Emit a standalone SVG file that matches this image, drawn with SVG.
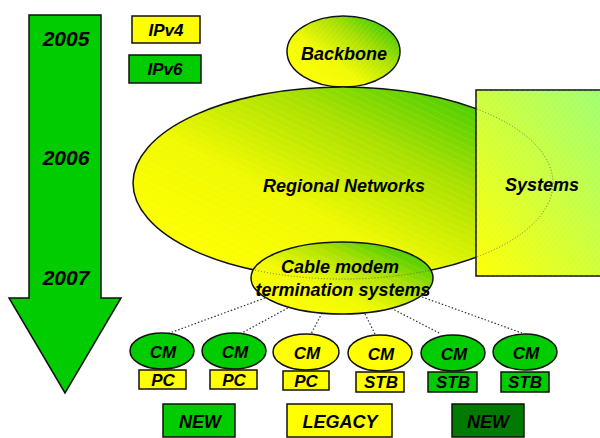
<svg xmlns="http://www.w3.org/2000/svg" width="600" height="438" viewBox="0 0 600 438">
<defs>
<linearGradient id="gYG" x1="0.1" y1="0.85" x2="0.9" y2="0.15">
<stop offset="0" stop-color="#FFFF00"/>
<stop offset="0.35" stop-color="#F0FA00"/>
<stop offset="0.7" stop-color="#A8E000"/>
<stop offset="1" stop-color="#44CC00"/>
</linearGradient>
<linearGradient id="gSys" x1="0" y1="1" x2="1" y2="0">
<stop offset="0" stop-color="#FFFF00"/>
<stop offset="1" stop-color="#99FF77"/>
</linearGradient>
<pattern id="hatch" width="6" height="6" patternUnits="userSpaceOnUse" patternTransform="rotate(25)">
<line x1="0" y1="0" x2="6" y2="0" stroke="#ffffff" stroke-opacity="0.18" stroke-width="1"/>
</pattern>
<pattern id="hatch2" width="4" height="4" patternUnits="userSpaceOnUse" patternTransform="rotate(-50)">
<line x1="0" y1="0" x2="4" y2="0" stroke="#ffffff" stroke-opacity="0.22" stroke-width="1"/>
</pattern>
<clipPath id="sysClip"><rect x="476" y="90" width="124" height="186"/></clipPath>
<clipPath id="cmtsClip"><ellipse cx="342" cy="278" rx="91" ry="36"/></clipPath>
</defs>
<style>
text{font-family:"Liberation Sans",Arial,sans-serif;font-weight:bold;font-style:italic;fill:#000;text-anchor:middle}
.ln{stroke:#111;stroke-width:1.5}
.grn{fill:#00CC00}
.yel{fill:#FFFF00}
.dk{fill:#007A00}
.conn{stroke:#333;stroke-width:1.2;stroke-dasharray:1.5 2;fill:none}
.t18{font-size:18px}
.t17{font-size:17px}
</style>

<g id="timeline">
<polygon class="grn ln" points="29,15 101,15 101,298 121,298 65,393 9,298 29,298"/>
<text x="66" y="46" style="font-size:21px">2005</text>
<text x="66" y="165" style="font-size:21px">2006</text>
<text x="66" y="285" style="font-size:21px">2007</text>
</g>

<g id="legend-ipv4">
<rect class="yel ln" x="132" y="16" width="68" height="27"/>
<text class="t17" x="166" y="36">IPv4</text>
</g>
<g id="legend-ipv6">
<rect class="grn ln" x="129" y="55" width="72" height="28"/>
<text class="t17" x="165" y="75">IPv6</text>
</g>

<g id="backbone">
<ellipse cx="343.5" cy="51.5" rx="56.5" ry="35.5" fill="url(#gYG)" class="ln"/>
<ellipse cx="343.5" cy="51.5" rx="56.5" ry="35.5" fill="url(#hatch2)"/>
<text class="t18" x="344" y="60">Backbone</text>
</g>

<g id="regional">
<ellipse cx="343" cy="183" rx="210" ry="96" fill="url(#gYG)" class="ln"/>
<ellipse cx="343" cy="183" rx="210" ry="96" fill="url(#hatch)"/>
<text class="t18" x="344" y="192">Regional Networks</text>
</g>

<g id="systems">
<rect x="476" y="90" width="140" height="186" fill="url(#gSys)" class="ln"/>
<rect x="476" y="90" width="140" height="186" fill="url(#hatch2)"/>
<ellipse cx="343" cy="183" rx="210" ry="96" fill="none" stroke="#555" stroke-width="0.8" stroke-dasharray="1 2" clip-path="url(#sysClip)"/>
<text class="t18" x="542" y="191">Systems</text>
</g>

<g id="connectors">
<line class="conn" x1="265" y1="298" x2="167" y2="334"/>
<line class="conn" x1="297" y1="303" x2="240" y2="334"/>
<line class="conn" x1="322" y1="313" x2="311" y2="334"/>
<line class="conn" x1="365" y1="314" x2="375" y2="334"/>
<line class="conn" x1="385" y1="305" x2="441" y2="334"/>
<line class="conn" x1="422" y1="297" x2="522" y2="333"/>
</g>

<g id="cmts">
<ellipse cx="342" cy="278" rx="91" ry="36" fill="url(#gYG)" class="ln"/>
<ellipse cx="342" cy="278" rx="91" ry="36" fill="url(#hatch)"/>
<ellipse cx="343" cy="183" rx="210" ry="96" fill="none" stroke="#555" stroke-width="0.8" stroke-dasharray="1 2" clip-path="url(#cmtsClip)"/>
<text class="t18" x="340" y="273">Cable modem</text>
<text class="t18" x="343" y="296">termination systems</text>
</g>

<g id="cm1">
<ellipse class="grn ln" cx="162" cy="351" rx="32" ry="18"/>
<text class="t17" x="163" y="358">CM</text>
<rect class="yel ln" x="139" y="370" width="47" height="19"/>
<text class="t17" x="163" y="386">PC</text>
</g>
<g id="cm2">
<ellipse class="grn ln" cx="234" cy="351" rx="32" ry="18"/>
<text class="t17" x="235" y="358">CM</text>
<rect class="yel ln" x="210" y="370" width="47" height="19"/>
<text class="t17" x="234" y="386">PC</text>
</g>
<g id="cm3">
<ellipse class="yel ln" cx="306" cy="352" rx="33" ry="18"/>
<text class="t17" x="307" y="359">CM</text>
<rect class="yel ln" x="283" y="371" width="46" height="19"/>
<text class="t17" x="306" y="387">PC</text>
</g>
<g id="cm4">
<ellipse class="yel ln" cx="380" cy="353" rx="32" ry="18"/>
<text class="t17" x="381" y="360">CM</text>
<rect class="yel ln" x="356" y="372" width="48" height="20"/>
<text class="t17" x="381" y="388">STB</text>
</g>
<g id="cm5">
<ellipse class="grn ln" cx="453" cy="353" rx="32" ry="18"/>
<text class="t17" x="454" y="360">CM</text>
<rect class="grn ln" x="428" y="372" width="49" height="20"/>
<text class="t17" x="453" y="388">STB</text>
</g>
<g id="cm6">
<ellipse class="grn ln" cx="525" cy="352" rx="32" ry="18"/>
<text class="t17" x="526" y="359">CM</text>
<rect class="grn ln" x="501" y="372" width="48" height="20"/>
<text class="t17" x="525" y="388">STB</text>
</g>

<g id="new1">
<rect class="grn ln" x="163" y="404" width="72" height="33"/>
<text class="t18" x="200" y="428">NEW</text>
</g>
<g id="legacy">
<rect class="yel ln" x="287" y="404" width="105" height="33"/>
<text class="t18" x="340" y="428">LEGACY</text>
</g>
<g id="new2">
<rect class="dk ln" x="452" y="404" width="72" height="33"/>
<text class="t18" x="488" y="428">NEW</text>
</g>
</svg>
